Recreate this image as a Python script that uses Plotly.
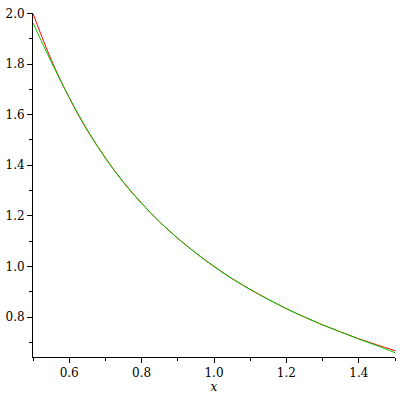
import plotly.graph_objects as go

x_vals = [0.5, 0.55, 0.6, 0.65, 0.7, 0.75, 0.8, 0.85, 0.9, 0.95, 1.0,
          1.05, 1.1, 1.15, 1.2, 1.25, 1.3, 1.35, 1.4, 1.45, 1.5]
red_vals = [2.0, 1.818, 1.667, 1.538, 1.429, 1.333, 1.25, 1.176, 1.111, 1.053, 1.0,
            0.952, 0.909, 0.870, 0.833, 0.8, 0.769, 0.741, 0.714, 0.690, 0.667]
green_vals = [1.963, 1.810, 1.668, 1.540, 1.428, 1.332, 1.249, 1.176, 1.111, 1.053, 1.0,
              0.952, 0.909, 0.870, 0.833, 0.800, 0.769, 0.741, 0.713, 0.687, 0.659]

fig = go.Figure()
fig.add_trace(go.Scatter(x=x_vals, y=red_vals, mode="lines",
                         line=dict(color="#ff0000", width=1, shape="spline")))
fig.add_trace(go.Scatter(x=x_vals, y=green_vals, mode="lines",
                         line=dict(color="#00cc00", width=1, shape="spline")))

axis_font = dict(family="DejaVu Serif", size=12, color="black")
fig.update_layout(
    width=400, height=400,
    margin=dict(l=33, r=5, t=13, b=43, autoexpand=False),
    paper_bgcolor="white", plot_bgcolor="white",
    showlegend=False,
    font=axis_font,
    xaxis=dict(range=[0.5, 1.5], showgrid=False, zeroline=False, automargin=False,
               showline=True, linecolor="black", linewidth=1,
               ticks="outside", ticklen=5, tickcolor="black",
               tick0=0, dtick=0.2, tickformat=".1f",
               minor=dict(dtick=0.1, tick0=0, ticks="outside", ticklen=3, tickcolor="black"),
               title=dict(text="<i>x</i>", font=axis_font, standoff=0),
               tickfont=axis_font),
    yaxis=dict(range=[0.642, 2.002], showgrid=False, zeroline=False, automargin=False,
               showline=True, linecolor="black", linewidth=1,
               ticks="outside", ticklen=5, tickcolor="black",
               tick0=0, dtick=0.2, tickformat=".1f",
               minor=dict(dtick=0.1, tick0=0, ticks="outside", ticklen=3, tickcolor="black"),
               tickfont=axis_font),
)

fig.write_html("out.html", config={"displayModeBar": False},
               post_script="document.body.style.margin='0';document.body.style.overflow='hidden';")
